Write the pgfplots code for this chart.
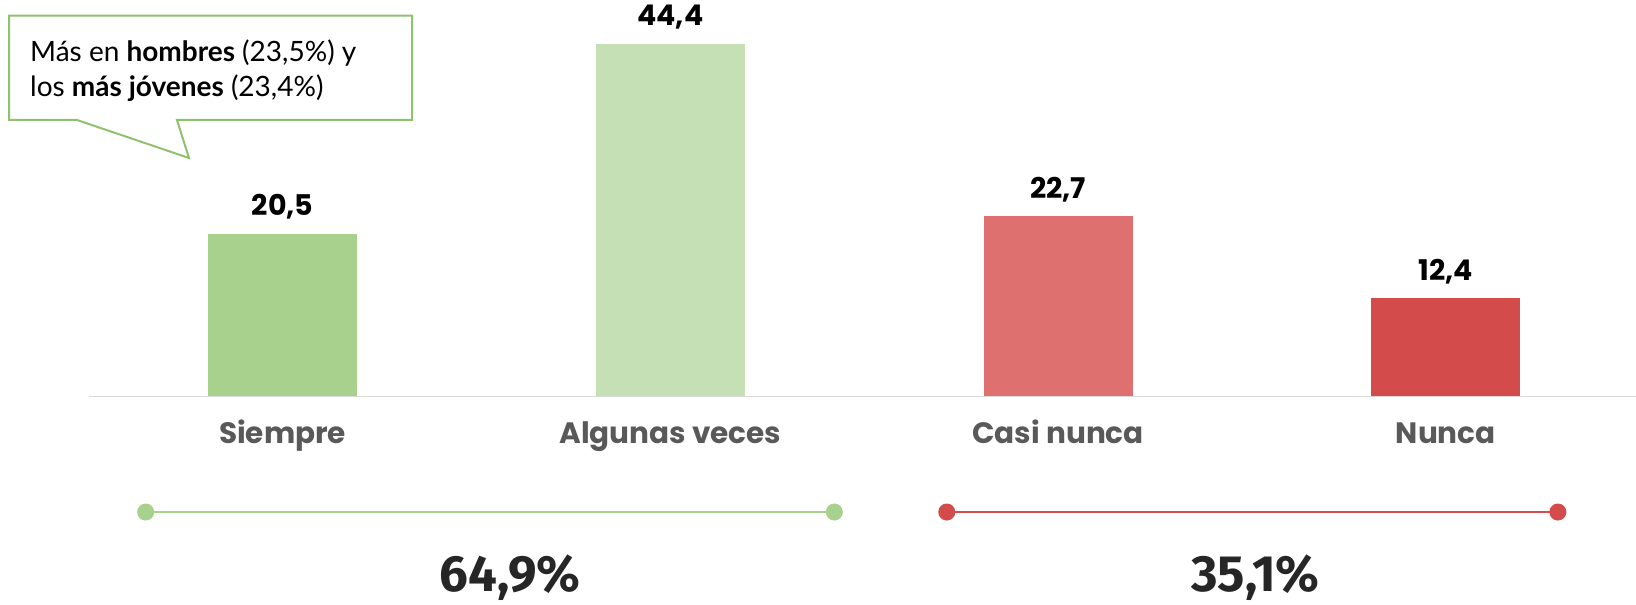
\documentclass[border=0pt]{standalone}
\usepackage{pgfplots}
\pgfplotsset{compat=1.18}
\usepackage{fontspec}
\setmainfont{Lato}
\newfontfamily\popfont{Poppins}
\newfontfamily\latofont{Lato}
\newfontfamily\pctfont{Fira Sans}
\definecolor{gA}{HTML}{A9D18E}
\definecolor{gB}{HTML}{C5E0B4}
\definecolor{rA}{HTML}{DE7070}
\definecolor{rB}{HTML}{D44B4C}
\definecolor{boxg}{HTML}{8FC16F}
\definecolor{catg}{HTML}{595959}
\definecolor{dark}{HTML}{262626}
\begin{document}
\begin{tikzpicture}[x=1pt,y=1pt]
\path[use as bounding box] (0,0) rectangle (1636,605);
\begin{axis}[
  at={(88.7pt,208.5pt)}, anchor=south west,
  scale only axis, width=1551pt, height=397pt,
  xmin=-0.5, xmax=3.5, ymin=0, ymax=50,
  clip=false,
  axis x line=bottom, axis y line=none,
  axis line style={-, draw=black!15, line width=1.5pt},
  xtick={0,1,2,3},
  xticklabels={Siempre, Algunas veces, Casi nunca, Nunca},
  major tick length=0pt,
  xticklabel style={anchor=base, yshift=-47pt, font=\popfont\bfseries\fontsize{29.5}{34}\selectfont, text=catg},
  ytick=\empty,
  nodes near coords,
  point meta=explicit symbolic,
  every node near coord/.style={anchor=base, yshift=18pt, font=\popfont\bfseries\fontsize{28.5}{34}\selectfont, text=black},
]
\addplot[ybar, bar width=149pt, bar shift=0pt, fill=gA, draw=none] coordinates {(0,20.5) [20,5]};
\addplot[ybar, bar width=149pt, bar shift=0pt, fill=gB, draw=none] coordinates {(1,44.4) [44,4]};
\addplot[ybar, bar width=149pt, bar shift=0pt, fill=rA, draw=none] coordinates {(2,22.7) [22,7]};
\addplot[ybar, bar width=149pt, bar shift=0pt, fill=rB, draw=none] coordinates {(3,12.4) [12,4]};
\addplot[gA, line width=2pt, mark=*, mark size=7.5pt, mark options={fill=gA, draw=none}, nodes near coords={}] coordinates {(-0.353,-14.55) (1.423,-14.55)};
\addplot[rB, line width=2pt, mark=*, mark size=7.5pt, mark options={fill=rB, draw=none}, nodes near coords={}] coordinates {(1.713,-14.55) (3.289,-14.55)};
\node[anchor=base, text=dark, font=\pctfont\bfseries\fontsize{51}{60}\selectfont] at (axis cs:0.587,-24.55) {64,9\%};
\node[anchor=base, text=dark, font=\pctfont\bfseries\fontsize{51}{60}\selectfont] at (axis cs:2.509,-24.55) {35,1\%};
\end{axis}
\draw[boxg, line width=2pt, fill=white, line join=miter]
  (9,485) -- (9,589.3) -- (412,589.3) -- (412,485) -- (177,485) -- (189,447) -- (77,485) -- cycle;
\node[anchor=base west, inner sep=0pt, font=\latofont\fontsize{28}{34}\selectfont] at (30,543) {Más en \textbf{hombres} (23,5\%) y};
\node[anchor=base west, inner sep=0pt, font=\latofont\fontsize{28}{34}\selectfont] at (30,508) {los \textbf{más jóvenes} (23,4\%)};
\end{tikzpicture}
\end{document}
